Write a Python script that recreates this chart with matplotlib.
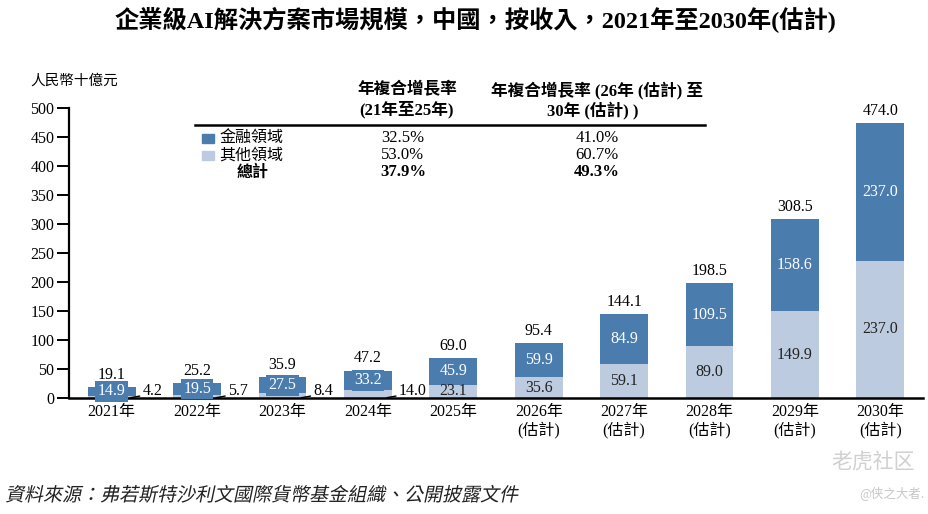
import matplotlib
matplotlib.use("Agg")
import matplotlib.pyplot as plt
from matplotlib.font_manager import FontProperties
from matplotlib.textpath import TextPath
from matplotlib.patches import PathPatch
from matplotlib.transforms import Affine2D

# ==========================
# Data
# ==========================

years = ["2021年", "2022年", "2023年", "2024年", "2025年",
         "2026年\n(估計)", "2027年\n(估計)", "2028年\n(估計)",
         "2029年\n(估計)", "2030年\n(估計)"]
finance = [14.9, 19.5, 27.5, 33.2, 45.9, 59.9, 84.9, 109.5, 158.6, 237.0]
other = [4.2, 5.7, 8.4, 14.0, 23.1, 35.6, 59.1, 89.0, 149.9, 237.0]
total = [19.1, 25.2, 35.9, 47.2, 69.0, 95.4, 144.1, 198.5, 308.5, 474.0]

cagr_rows = ["金融領域", "其他領域", "總計"]
cagr_hist = ["32.5%", "53.0%", "37.9%"]
cagr_fcst = ["41.0%", "60.7%", "49.3%"]

BLUE = "#4a7cae"
LIGHT = "#bccbdf"
SERIF = ["Liberation Serif", "Noto Sans CJK TC"]
CJK = ["Noto Sans CJK TC", "DejaVu Sans"]

W, H = 929, 514


def fx(px):
    return px / W


def fy(py):
    return 1 - py / H


fig = plt.figure(figsize=(9.29, 5.14), dpi=100)
ax = fig.add_axes([fx(69), fy(398), fx(923) - fx(69), fy(108) - fy(398)])

x = list(range(len(years)))
bw = 0.562

ax.bar(x, other, width=bw, color=LIGHT, zorder=2)
ax.bar(x, finance, width=bw, bottom=other, color=BLUE, zorder=2)

ax.set_xlim(-0.5, 9.5)
ax.set_ylim(0, 500)
ax.set_yticks(range(0, 501, 50))

for side in ["top", "right"]:
    ax.spines[side].set_visible(False)
ax.spines["left"].set_linewidth(1.6)
ax.spines["bottom"].set_linewidth(1.8)

ax.tick_params(axis="y", direction="out", length=8.5, width=1.4, pad=2)
ax.tick_params(axis="x", length=0, pad=4)
ax.set_xticks(x)
ax.set_xticklabels(years, linespacing=1.15)
for lab in ax.get_xticklabels() + ax.get_yticklabels():
    lab.set_family(SERIF)
    lab.set_fontsize(11.5)

# ==========================
# Bar labels
# ==========================

for i in x:
    ax.annotate(f"{total[i]:.1f}", (i, total[i]), xytext=(0, 3),
                textcoords="offset points", ha="center", va="bottom",
                family=SERIF, fontsize=11.5, zorder=4)

    mid = other[i] + finance[i] / 2
    if i < 4:
        ax.text(i, mid, f"{finance[i]:.1f}", ha="center", va="center",
                color="white", family=SERIF, fontsize=11.5, zorder=4,
                bbox=dict(boxstyle="square,pad=0.15", fc=BLUE, ec="none"))
        ax.annotate(f"{other[i]:.1f}", xy=(i + bw / 2 - 0.06, 0.5),
                    xytext=(i + bw / 2 + 0.08, 12.5),
                    ha="left", va="center", family=SERIF, fontsize=11.5,
                    zorder=4,
                    arrowprops=dict(arrowstyle="-", lw=1.0, color="black",
                                    shrinkA=0, shrinkB=0, relpos=(0, 0.2)))
    else:
        ax.text(i, mid, f"{finance[i]:.1f}", ha="center", va="center",
                color="white", family=SERIF, fontsize=11.5, zorder=4)
        ax.text(i, other[i] / 2, f"{other[i]:.1f}", ha="center",
                va="center", color="#222222", family=SERIF, fontsize=11.5,
                zorder=4)

# ==========================
# Title, unit, CAGR table
# ==========================

fig.text(fx(475), fy(20), "企業級AI解決方案市場規模，中國，按收入，2021年至2030年(估計)",
         ha="center", va="center", family=SERIF, fontsize=17.5,
         fontweight="bold")
fig.text(fx(30), fy(81), "人民幣十億元", ha="left", va="center",
         family=CJK, fontsize=10.5)

fig.text(fx(407), fy(90), "年複合增長率", ha="center", va="center",
         family=SERIF, fontsize=12, fontweight="bold")
fig.text(fx(407), fy(110), "(21年至25年)", ha="center", va="center",
         family=SERIF, fontsize=12, fontweight="bold")
fig.text(fx(597), fy(90), "年複合增長率 (26年 (估計) 至", ha="center",
         va="center", family=SERIF, fontsize=12, fontweight="bold")
fig.text(fx(593), fy(110), "30年 (估計) )", ha="center", va="center",
         family=SERIF, fontsize=12, fontweight="bold")

fig.add_artist(plt.Line2D([fx(195), fx(705)], [fy(125), fy(125)],
                          color="black", lw=1.8))

row_y = [138, 155, 172]
swatch = [BLUE, LIGHT]
for r, name in enumerate(cagr_rows):
    bold = "bold" if r == 2 else "normal"
    if r < 2:
        fig.patches.append(plt.Rectangle((fx(202), fy(row_y[r] + 5)),
                                         fx(12), 9 / H, color=swatch[r],
                                         transform=fig.transFigure,
                                         figure=fig))
        fig.text(fx(219), fy(row_y[r]), name, ha="left", va="center",
                 family=CJK, fontsize=11.5)
    else:
        fig.text(fx(253), fy(row_y[r]), name, ha="center", va="center",
                 family=CJK, fontsize=11.5, fontweight="bold")
    fig.text(fx(403), fy(row_y[r]), cagr_hist[r], ha="center", va="center",
             family=SERIF, fontsize=12, fontweight=bold)
    fig.text(fx(597), fy(row_y[r]), cagr_fcst[r], ha="center", va="center",
             family=SERIF, fontsize=12, fontweight=bold)

# ==========================
# Source (slanted) and watermark
# ==========================

source = "資料來源：弗若斯特沙利文國際貨幣基金組織、公開披露文件"
src_path = TextPath((0, 0), source, size=19,
                    prop=FontProperties(family="Noto Sans CJK TC"))
src_tf = Affine2D().skew_deg(12, 0).translate(5, H - 501)
fig.patches.append(PathPatch(src_path, transform=src_tf, fc="#222222",
                             ec="none", lw=0, figure=fig))

fig.text(fx(915), fy(462), "老虎社区", ha="right", va="center",
         family=["Noto Sans CJK SC"], fontsize=15, color="#d0d0d0")
fig.text(fx(925), fy(494), "@侠之大者.", ha="right", va="center",
         family=["Noto Sans CJK SC"], fontsize=9, color="#c8c8c8")

fig.savefig("out.png", dpi=100)
